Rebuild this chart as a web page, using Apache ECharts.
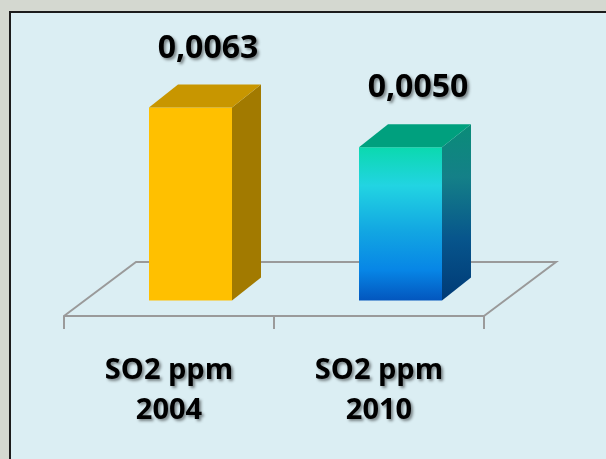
<!DOCTYPE html>
<html>
<head>
<meta charset="utf-8">
<script src="https://cdn.jsdelivr.net/npm/echarts@6/dist/echarts.min.js"></script>
<style>
html,body{margin:0;padding:0;background:#d4d8d0;}
#c{width:606px;height:459px;}
</style>
</head>
<body>
<div id="c"></div>
<script>
const categories = ['SO2 ppm\n2004', 'SO2 ppm\n2010'];
const values = [0.0063, 0.0050];
const yMin = 0;
const yMax = 0.007;

const FONT = '"Open Sans", "Noto Sans", sans-serif';
const floorD = [72, -54];   // floor depth vector
const barD = [29, -23];     // bar depth vector
const barW = 83;

const faces = [
  {
    front: '#FFC000',
    top: '#C89600',
    side: '#A27A00'
  },
  {
    front: {type:'linear', x:0, y:0, x2:0, y2:1, colorStops:[
      {offset:0, color:'#0BD9AF'},
      {offset:0.25, color:'#22D4E2'},
      {offset:0.55, color:'#12A6E2'},
      {offset:0.8, color:'#0786E6'},
      {offset:1, color:'#0356BE'}]},
    top: '#00A07E',
    side: {type:'linear', x:0, y:0, x2:0, y2:1, colorStops:[
      {offset:0, color:'#0A8C78'},
      {offset:0.3, color:'#148088'},
      {offset:0.65, color:'#07558C'},
      {offset:1, color:'#003A76'}]}
  }
];

const chart = echarts.init(document.getElementById('c'), null, {renderer:'canvas'});

const option = {
  backgroundColor: '#d4d8d0',
  animation: false,
  graphic: [{
    type: 'rect',
    z: -10,
    shape: {x: 10, y: 12, width: 620, height: 470},
    style: {fill: '#dbeef3', stroke: '#1c1c1c', lineWidth: 2}
  }],
  grid: {left: 64, right: 122, top: 101.6, bottom: 143},
  xAxis: {
    type: 'category',
    data: categories,
    boundaryGap: true,
    axisLine: {show: true, lineStyle: {color: '#9a9a9a', width: 2}},
    axisTick: {show: true, length: 13, lineStyle: {color: '#9a9a9a', width: 2}},
    axisLabel: {
      interval: 0,
      margin: 35,
      color: '#000',
      fontFamily: FONT,
      fontWeight: 'bold',
      fontSize: 29,
      lineHeight: 40,
      textShadowColor: 'rgba(0,0,0,0.45)',
      textShadowBlur: 3,
      textShadowOffsetX: 2,
      textShadowOffsetY: 2
    }
  },
  yAxis: {
    type: 'value', min: yMin, max: yMax, show: false,
    splitLine: {show: false}
  },
  series: [
    {
      type: 'custom',
      z: 1,
      data: [0],
      renderItem: function (params, api) {
        const cs = params.coordSys;
        const x0 = cs.x, x1 = cs.x + cs.width, y = cs.y + cs.height;
        return {
          type: 'polyline',
          shape: {points: [
            [x0, y], [x0 + floorD[0], y + floorD[1]],
            [x1 + floorD[0], y + floorD[1]], [x1, y]
          ]},
          style: {stroke: '#9a9a9a', lineWidth: 2, fill: null}
        };
      }
    },
    {
      type: 'custom',
      z: 2,
      data: values.map((v, i) => [i, v]),
      renderItem: function (params, api) {
        const i = api.value(0);
        const v = api.value(1);
        const base = api.coord([i, 0]);
        const topPt = api.coord([i, v]);
        const h = base[1] - topPt[1];
        const mx = base[0] + floorD[0] / 2;
        const my = base[1] + floorD[1] / 2;
        const fx0 = mx - barD[0] / 2 - barW / 2;
        const fyB = my - barD[1] / 2;
        const fx1 = fx0 + barW;
        const fyT = fyB - h;
        const f = faces[i];
        const dx = barD[0], dy = barD[1];
        const label = v.toFixed(4).replace('.', ',');
        return {
          type: 'group',
          children: [
            {
              type: 'rect',
              shape: {x: fx0, y: fyT, width: barW, height: h},
              style: {fill: f.front}
            },
            {
              type: 'polygon',
              shape: {points: [[fx1, fyT], [fx1 + dx, fyT + dy], [fx1 + dx, fyB + dy], [fx1, fyB]]},
              style: {fill: f.side}
            },
            {
              type: 'polygon',
              shape: {points: [[fx0, fyT], [fx0 + dx, fyT + dy], [fx1 + dx, fyT + dy], [fx1, fyT]]},
              style: {fill: f.top}
            },
            {
              type: 'text',
              style: {
                text: label,
                x: (fx0 + fx1 + dx) / 2 + 3,
                y: fyT + dy - 20,
                align: 'center',
                verticalAlign: 'bottom',
                fill: '#000',
                font: 'bold 32px ' + FONT,
                textShadowColor: 'rgba(0,0,0,0.45)',
                textShadowBlur: 3,
                textShadowOffsetX: 2,
                textShadowOffsetY: 2
              }
            }
          ]
        };
      }
    }
  ]
};
chart.setOption(option);
</script>
</body>
</html>
